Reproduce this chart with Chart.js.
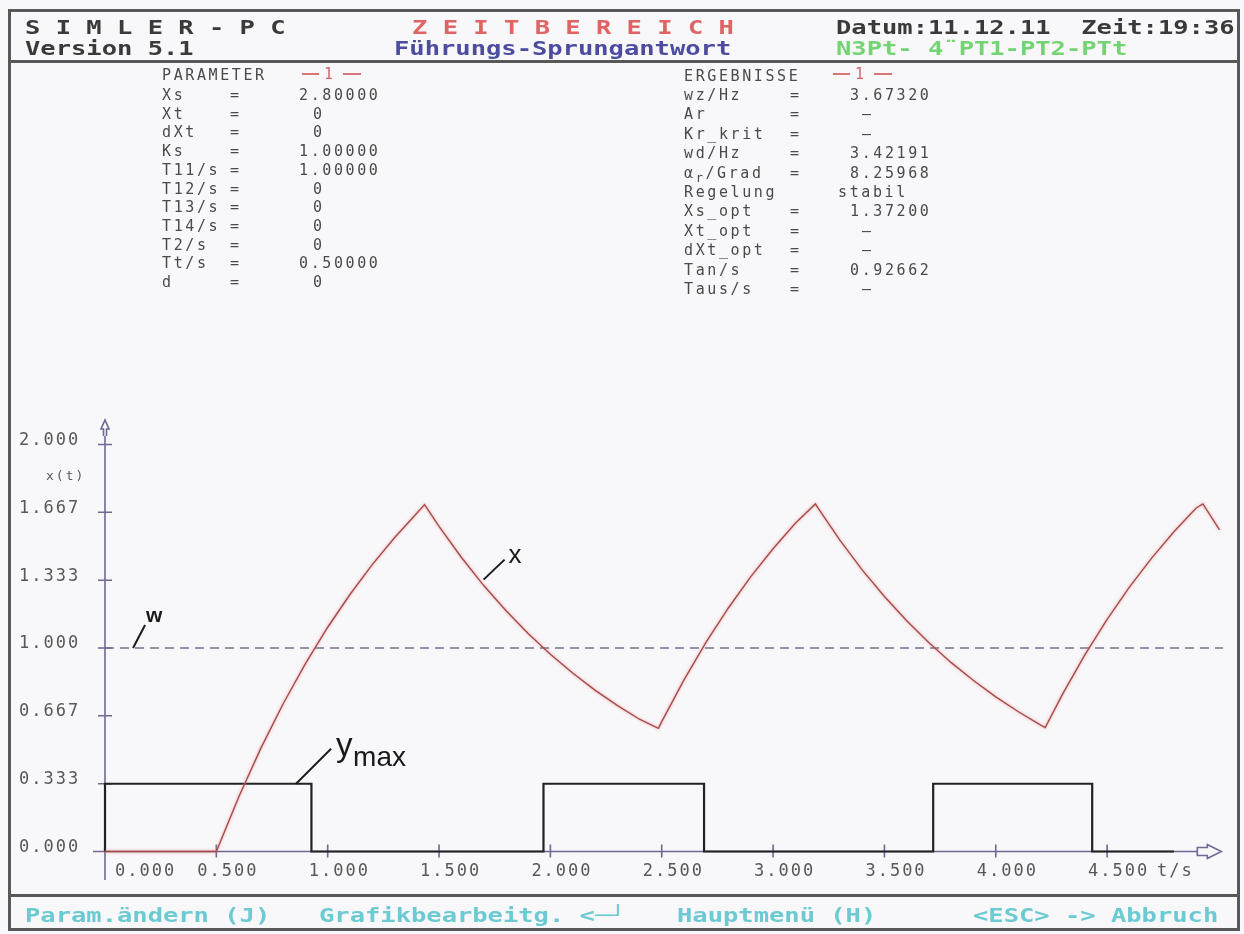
<!DOCTYPE html>
<html><head><meta charset="utf-8">
<script src="https://cdn.jsdelivr.net/npm/chart.js@4.4.1/dist/chart.umd.min.js"></script>
<style>
html,body{margin:0;padding:0}
body{width:1244px;height:934px;position:relative;overflow:hidden;background:#f8f7f9;font-family:"DejaVu Sans Mono",monospace}
#plot{position:absolute;left:0;top:0}
.line{position:absolute;background:#585858}
.t{position:absolute;white-space:pre;line-height:20px;height:20px}
.hd{font-weight:bold;font-size:19px;transform-origin:0 50%;transform:scaleX(1.34)}
.sm{font-size:15px;letter-spacing:2.6px;color:#4a4a4a}
.dash{position:absolute;height:2px;background:#d87474}
</style></head><body>
<canvas id="plot" width="1244" height="934"></canvas>
<div id="txt"></div>
<script>
// ---- simulated response x(t), sampled at read-off times ----
const tSamples = [0, 0.5, 0.6, 0.7, 0.8, 0.9, 1.0, 1.1, 1.2, 1.3, 1.4, 1.435,
  1.5, 1.6, 1.7, 1.8, 1.9, 2.0, 2.1, 2.2, 2.3, 2.4, 2.485,
  2.5, 2.6, 2.7, 2.8, 2.9, 3.0, 3.1, 3.19,
  3.2, 3.3, 3.4, 3.5, 3.6, 3.7, 3.8, 3.9, 4.0, 4.1, 4.2, 4.222,
  4.3, 4.4, 4.5, 4.6, 4.7, 4.8, 4.9, 4.93, 5.005];
const xSamples = [0, 0, 0.267, 0.508, 0.726, 0.923, 1.102, 1.263, 1.410, 1.542, 1.662, 1.705,
  1.598, 1.446, 1.308, 1.184, 1.071, 0.969, 0.877, 0.793, 0.718, 0.650, 0.605,
  0.638, 0.843, 1.030, 1.198, 1.351, 1.488, 1.613, 1.708,
  1.691, 1.530, 1.384, 1.253, 1.134, 1.026, 0.928, 0.840, 0.760, 0.688, 0.622, 0.609,
  0.773, 0.966, 1.141, 1.299, 1.442, 1.571, 1.688, 1.708, 1.580];

// ---- two-point controller output (ymax pulses): level held from each time on ----
const pulseTimes  = [0, 0, 0.927, 1.969, 2.690, 3.719, 4.433, 4.800];
const pulseLevels = [0, 0.333, 0, 0.333, 0, 0.333, 0, 0];

// ---- set point w ----
const wLevel = 1.0;
const wSpan = [0, 5.02];

// ---- axes ----
const xTickValues = [0.5, 1.0, 1.5, 2.0, 2.5, 3.0, 3.5, 4.0, 4.5];
const xTickLabels = ['0.500', '1.000', '1.500', '2.000', '2.500', '3.000', '3.500', '4.000', '4.500'];
const yTickValues = [0.333, 0.667, 1.0, 1.333, 1.667, 2.0];
const yTickLabels = ['0.000', '0.333', '0.667', '1.000', '1.333', '1.667', '2.000'];
const yLabelValues = [0, 0.333, 0.667, 1.0, 1.333, 1.667, 2.0];

// ---- screen texts ----
const paramNames  = ['Xs', 'Xt', 'dXt', 'Ks', 'T11/s', 'T12/s', 'T13/s', 'T14/s', 'T2/s', 'Tt/s', 'd'];
const paramValues = ['2.80000', '0', '0', '1.00000', '1.00000', '0', '0', '0', '0', '0.50000', '0'];
const resultNames  = ['wz/Hz', 'Ar', 'Kr_krit', 'wd/Hz', 'ALPHA', 'Regelung', 'Xs_opt', 'Xt_opt', 'dXt_opt', 'Tan/s', 'Taus/s'];
const resultValues = ['3.67320', '-', '-', '3.42191', '8.25968', 'stabil', '1.37200', '-', '-', '0.92662', '-'];

const layer = document.getElementById('txt');
function put(text, x, yc, cls, color) {
  const d = document.createElement('div');
  d.className = 't ' + cls;
  d.textContent = text;
  d.style.left = x + 'px';
  d.style.top = (yc - 10) + 'px';
  if (color) d.style.color = color;
  layer.appendChild(d);
  return d;
}
function rule(x, y, w, h) {
  const d = document.createElement('div');
  d.className = 'line';
  Object.assign(d.style, {left: x + 'px', top: y + 'px', width: w + 'px', height: h + 'px'});
  layer.appendChild(d);
}
function redOne(x, yc) {
  [[x, 17], [x + 41, 18]].forEach(([l, w]) => {
    const d = document.createElement('div');
    d.className = 'dash';
    Object.assign(d.style, {left: l + 'px', top: (yc - 1) + 'px', width: w + 'px'});
    layer.appendChild(d);
  });
  put('1', x + 22, yc, 'sm', '#d06868');
}

// frame
rule(8, 9, 1232, 3); rule(8, 928, 1232, 3);
rule(8, 9, 3, 922); rule(1237, 9, 3, 922);
rule(8, 60, 1232, 3);
rule(8, 894, 1232, 3);

// header
put('S I M L E R - P C', 25, 27, 'hd', '#3a3a3a');
put('Z E I T B E R E I C H', 412, 27, 'hd', '#e06464');
put('Datum:11.12.11  Zeit:19:36', 836, 27, 'hd', '#3a3a3a');
put('Version 5.1', 25, 48, 'hd', '#3a3a3a');
put('Führungs-Sprungantwort', 394, 48, 'hd', '#4c4ca0');
put('N3Pt- 4¨PT1-PT2-PTt', 836, 48, 'hd', '#74d474');

// footer
put('Param.ändern (J)', 25, 915, 'hd', '#6ccad2');
put('Grafikbearbeitg. <─┘', 319, 915, 'hd', '#6ccad2');
put('Hauptmenü (H)', 677, 915, 'hd', '#6ccad2');
put('<ESC> -> Abbruch', 973, 915, 'hd', '#6ccad2');

// parameter block
put('PARAMETER', 162, 75, 'sm');
redOne(302, 74);
paramNames.forEach((n, i) => {
  const y = 95 + i * 18.7;
  put(n, 162, y, 'sm');
  put('=', 230, y, 'sm');
  put(paramValues[i], paramValues[i].length > 1 ? 299 : 313, y, 'sm');
});

// result block
put('ERGEBNISSE', 684, 76, 'sm');
redOne(833, 74);
resultNames.forEach((n, i) => {
  const y = 95 + i * 19.4;
  if (n === 'ALPHA') {
    const d = put('', 684, y, 'sm');
    d.innerHTML = '&alpha;<span style="font-size:12px;position:relative;top:4px">r</span>/Grad';
  } else {
    put(n, 684, y, 'sm');
  }
  if (n !== 'Regelung') put('=', 790, y, 'sm');
  const v = resultValues[i];
  let vx = 850;
  if (v === '-') vx = 862;
  if (v === 'stabil') vx = 838;
  put(v === '-' ? '–' : v, vx, y, 'sm');
});

// ---- chart ----
const axisColor = '#6a6a92';
const tickFont = '17px "DejaVu Sans Mono"';

const axesPlugin = {
  id: 'simAxes',
  beforeDatasetsDraw(chart) {
    const {ctx, scales: {x: xs, y: ys}} = chart;
    const x0 = xs.getPixelForValue(0), y0 = ys.getPixelForValue(0);
    ctx.save();
    ctx.strokeStyle = axisColor;
    ctx.lineWidth = 1.6;
    // vertical axis with hollow arrow head
    ctx.beginPath();
    ctx.moveTo(x0, 880); ctx.lineTo(x0, 436);
    ctx.moveTo(x0 - 1.5, 436); ctx.lineTo(x0 - 1.5, 429); ctx.lineTo(x0 - 4, 429);
    ctx.lineTo(x0, 420); ctx.lineTo(x0 + 4, 429); ctx.lineTo(x0 + 1.5, 429); ctx.lineTo(x0 + 1.5, 436);
    ctx.stroke();
    // horizontal axis with hollow arrow head
    const xe = xs.getPixelForValue(4.905);
    ctx.beginPath();
    ctx.moveTo(x0 - 12, y0); ctx.lineTo(xe, y0);
    ctx.moveTo(xe, y0 - 4); ctx.lineTo(xe + 10, y0 - 4); ctx.lineTo(xe + 10, y0 - 7);
    ctx.lineTo(xe + 24, y0); ctx.lineTo(xe + 10, y0 + 7); ctx.lineTo(xe + 10, y0 + 4);
    ctx.lineTo(xe, y0 + 4); ctx.closePath();
    ctx.stroke();
    // tick marks
    ctx.beginPath();
    yTickValues.forEach(v => {
      const p = ys.getPixelForValue(v);
      ctx.moveTo(x0 - 7, p); ctx.lineTo(x0 + 7, p);
    });
    xTickValues.forEach(v => {
      const p = xs.getPixelForValue(v);
      ctx.moveTo(p, y0 - 7); ctx.lineTo(p, y0 + 6);
    });
    ctx.stroke();
    // tick labels
    ctx.fillStyle = '#585858';
    ctx.font = tickFont;
    ctx.letterSpacing = '2px';
    ctx.textAlign = 'left';
    ctx.textBaseline = 'middle';
    yLabelValues.forEach((v, i) => {
      ctx.fillText(yTickLabels[i], 19, ys.getPixelForValue(v) - 4);
    });
    ctx.fillText('0.000', x0 + 10, y0 + 20);
    xTickValues.forEach((v, i) => {
      ctx.fillText(xTickLabels[i], xs.getPixelForValue(v) - 19, y0 + 20);
    });
    ctx.fillText('t/s', xs.getPixelForValue(4.5) + 50, y0 + 20);
    ctx.font = '13px "DejaVu Sans Mono"';
    ctx.letterSpacing = '2px';
    ctx.fillText('x(t)', 46, ys.getPixelForValue(1.84));
    ctx.restore();
  }
};

// curve labels with leader lines (anchor in data units, end offset in px)
const curveLabels = [
  {anchor: [0.126, 1.0], dx: 12, dy: -23},
  {anchor: [1.70, 1.336], dx: 21, dy: -20},
  {anchor: [0.858, 0.333], dx: 35, dy: -35}
];
const labelPlugin = {
  id: 'curveLabels',
  afterDatasetsDraw(chart) {
    const {ctx, scales: {x: xs, y: ys}} = chart;
    ctx.save();
    ctx.strokeStyle = '#1a1a1a';
    ctx.fillStyle = '#1a1a1a';
    ctx.lineWidth = 2;
    const ends = curveLabels.map(c => {
      const ax = xs.getPixelForValue(c.anchor[0]), ay = ys.getPixelForValue(c.anchor[1]);
      ctx.beginPath(); ctx.moveTo(ax, ay); ctx.lineTo(ax + c.dx, ay + c.dy); ctx.stroke();
      return [ax + c.dx, ay + c.dy];
    });
    ctx.textAlign = 'left';
    ctx.textBaseline = 'alphabetic';
    ctx.font = 'bold 21px "Liberation Sans"';
    ctx.fillText('w', ends[0][0] + 1, ends[0][1] - 3);
    ctx.font = '26px "Liberation Sans"';
    ctx.fillText('x', ends[1][0] + 4, ends[1][1] + 3);
    ctx.font = '33px "Liberation Sans"';
    ctx.fillText('y', ends[2][0] + 5, ends[2][1] + 7);
    ctx.font = '28px "Liberation Sans"';
    ctx.fillText('max', ends[2][0] + 22, ends[2][1] + 17);
    ctx.restore();
  }
};

const glowPlugin = {
  id: 'glow',
  beforeDatasetDraw(chart, args) {
    if (args.index === 0) {
      chart.ctx.save();
      chart.ctx.shadowColor = 'rgba(235,120,120,0.7)';
      chart.ctx.shadowBlur = 3;
    }
  },
  afterDatasetDraw(chart, args) {
    if (args.index === 0) chart.ctx.restore();
  }
};

new Chart(document.getElementById('plot').getContext('2d'), {
  type: 'line',
  data: {
    datasets: [
      {
        label: 'x',
        data: tSamples.map((t, i) => ({x: t, y: xSamples[i]})),
        borderColor: '#a44c4c',
        borderWidth: 1.4,
        pointRadius: 0,
        tension: 0,
        order: 1
      },
      {
        label: 'ymax',
        data: pulseTimes.map((t, i) => ({x: t, y: pulseLevels[i]})),
        borderColor: '#222222',
        borderWidth: 2.2,
        pointRadius: 0,
        stepped: 'before',
        order: 2
      },
      {
        label: 'w',
        data: wSpan.map(t => ({x: t, y: wLevel})),
        borderColor: '#72728e',
        borderWidth: 1.6,
        borderDash: [9, 6],
        pointRadius: 0,
        order: 3
      }
    ]
  },
  options: {
    responsive: false,
    animation: false,
    devicePixelRatio: 1,
    clip: false,
    layout: {padding: {left: 105, right: 14.4, top: 420.1, bottom: 82.5}},
    scales: {
      x: {type: 'linear', min: 0, max: 5.05, display: false},
      y: {type: 'linear', min: 0, max: 2.12, display: false}
    },
    plugins: {legend: {display: false}, tooltip: {enabled: false}}
  },
  plugins: [axesPlugin, labelPlugin, glowPlugin]
});
</script>
</body></html>
